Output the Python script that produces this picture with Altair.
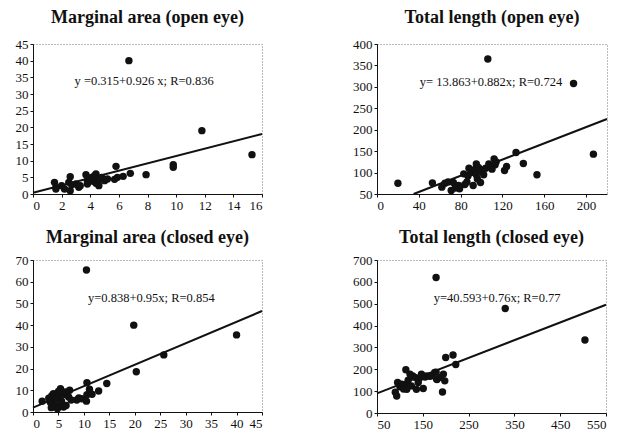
import altair as alt
import pandas as pd

# ---- Panel 1: Marginal area (open eye)
p1_x = [1.5,1.6,1.6,2.0,2.2,2.5,2.6,2.6,2.7,3.0,3.2,3.3,3.7,3.8,3.8,4.0,4.1,4.2,4.3,4.4,
        4.4,4.5,4.6,4.7,4.8,5.0,5.2,5.7,5.8,5.9,6.3,6.8,7.9,9.8,9.8,11.8,15.3,6.7]
p1_y = [3.5,2.0,1.5,2.5,1.5,3.5,1.0,5.2,2.8,3.0,2.0,2.5,5.8,4.0,3.0,4.5,5.0,3.8,5.5,6.0,
        3.2,4.0,2.5,4.5,5.0,4.0,4.5,4.4,8.3,5.0,5.3,6.2,5.8,8.8,8.0,19.0,11.8,40.0]
p1_line_x = [0, 16]
p1_line_y = [0.4, 18.0]

# ---- Panel 2: Total length (open eye)
p2_x = [20,53,62,65,68,71,73,75,78,79,83,84,86,87,88,90,92,94,95,95,
        96,97,99,100,102,104,107,110,112,113,114,122,124,133,140,153,188,207,106]
p2_y = [75,76,66,75,78,58,77,64,70,62,97,72,78,92,110,100,70,108,120,95,
        85,112,77,104,95,110,120,108,132,118,125,105,114,147,121,95,308,143,365]
p2_line_x = [35, 220]
p2_line_y = [50, 225]

# ---- Panel 3: Marginal area (closed eye)
p3_x = [1.8,3.1,3.4,3.6,3.7,4.0,4.1,4.4,4.5,4.8,5.0,5.0,5.4,5.5,5.6,6.0,6.2,6.3,6.5,7.0,
        7.2,7.5,8.6,9.0,9.6,10.5,10.6,10.6,11.1,11.6,12.9,14.5,20.3,25.7,40.0,19.8,10.5]
p3_y = [5.0,6.4,4.5,2.0,7.5,8.4,3.5,3.0,6.0,1.5,6.9,9.5,10.7,3.5,5.0,2.3,8.0,9.2,3.0,6.9,
        10.0,5.5,5.5,6.5,6.1,5.0,13.5,8.0,10.5,8.2,9.7,13.1,18.5,26.3,35.5,40.0,65.4]
p3_line_x = [0, 45]
p3_line_y = [2.0, 46.5]

# ---- Panel 4: Total length (closed eye)
p4_x = [90,93,95,100,104,108,112,113,115,118,122,125,128,133,136,140,143,147,151,155,
        158,165,169,176,179,180,181,189,193,195,198,200,216,222,330,504,179]
p4_y = [95,78,140,120,132,110,130,198,109,150,178,124,170,163,109,140,160,178,112,165,
        170,168,170,186,187,155,153,163,96,178,147,254,265,222,478,334,620]
p4_line_x = [50, 550]
p4_line_y = [90, 495]

titles = ["Marginal area (open eye)", "Total length (open eye)",
          "Marginal area (closed eye)", "Total length (closed eye)"]
annotations = ["y =0.315+0.926 x; R=0.836", "y= 13.863+0.882x; R=0.724",
               "y=0.838+0.95x; R=0.854", "y=40.593+0.76x; R=0.77"]
ann_pos = [(2.9, 34), (41, 311), (10.8, 52.5), (174, 526)]

x_ticks = [list(range(0, 17, 2)), list(range(0, 201, 40)),
           list(range(0, 46, 5)), list(range(50, 551, 100))]
y_ticks = [list(range(0, 46, 5)), list(range(50, 401, 50)),
           list(range(0, 71, 10)), list(range(0, 701, 100))]
x_dom = [[0, 16], [0, 220], [0, 45], [50, 550]]
y_dom = [[0, 45], [50, 400], [0, 70], [0, 700]]

SERIF = "Liberation Serif"


def panel(i, xs, ys, lx, ly, w, h, toff):
    pts = pd.DataFrame({"x": xs, "y": ys})
    ln = pd.DataFrame({"x": lx, "y": ly})
    tx = pd.DataFrame({"x": [ann_pos[i][0]], "y": [ann_pos[i][1]], "t": [annotations[i]]})
    xs_ = alt.Scale(domain=x_dom[i], nice=False, zero=False)
    ys_ = alt.Scale(domain=y_dom[i], nice=False, zero=False)
    xenc = alt.X("x:Q", scale=xs_, title=None,
                 axis=alt.Axis(values=x_ticks[i], grid=False))
    yenc = alt.Y("y:Q", scale=ys_, title=None,
                 axis=alt.Axis(values=y_ticks[i], grid=False))
    points = alt.Chart(pts).mark_circle(size=55, color="#111", opacity=1).encode(x=xenc, y=yenc)
    line = alt.Chart(ln).mark_line(color="#111", strokeWidth=2).encode(x=xenc, y=yenc)
    text = alt.Chart(tx).mark_text(font=SERIF, fontSize=12.5, align="left",
                                   baseline="middle", color="#111").encode(
        x=xenc, y=yenc, text="t:N")
    return alt.layer(points, line, text).properties(
        width=w, height=h,
        title=alt.TitleParams(titles[i], font=SERIF, fontSize=18, fontWeight="bold",
                              color="#111", offset=toff, anchor="middle"))


c1 = panel(0, p1_x, p1_y, p1_line_x, p1_line_y, 229, 150, 11)
c2 = panel(1, p2_x, p2_y, p2_line_x, p2_line_y, 230, 150, 11)
c3 = panel(2, p3_x, p3_y, p3_line_x, p3_line_y, 229, 152, 7)
c4 = panel(3, p4_x, p4_y, p4_line_x, p4_line_y, 229, 153, 7)

row1 = alt.hconcat(c1, c2, spacing=85)
row2 = alt.hconcat(c3, c4, spacing=85)

chart = alt.vconcat(row1, row2, spacing=15).properties(
    padding={"left": 6, "top": 0, "right": 5, "bottom": 5},
    background="white"
).configure_view(
    stroke="#777", strokeDash=[1, 2], strokeWidth=1
).configure_axis(
    labelFont=SERIF, labelFontSize=13, labelColor="#111",
    domainColor="#111", domainWidth=1, tickColor="#111", tickSize=3,
    labelPadding=2
)

chart.save("out.html", embed_options={"renderer": "svg", "actions": False})
